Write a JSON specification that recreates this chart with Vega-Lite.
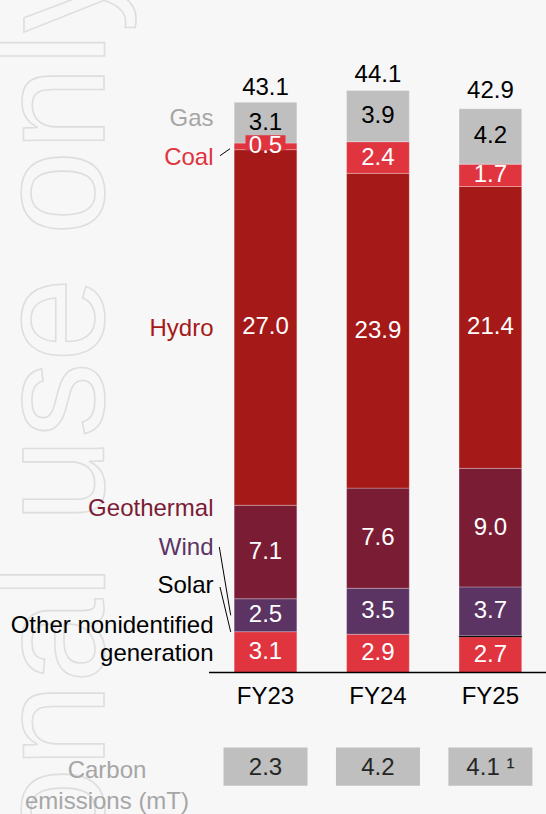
{
  "$schema": "https://vega.github.io/schema/vega-lite/v6.json",
  "width": 546,
  "height": 814,
  "padding": 0,
  "autosize": {"type": "none"},
  "background": "#f7f7f7",
  "config": {"view": {"stroke": null}, "font": "Liberation Sans", "text": {"font": "Liberation Sans", "fontSize": 24}},
  "datasets": {
    "gen": [
      {"year": "FY23", "source": "Other nonidentified generation", "order": 1, "value": 3.1},
      {"year": "FY23", "source": "Wind", "order": 3, "value": 2.5},
      {"year": "FY23", "source": "Geothermal", "order": 4, "value": 7.1},
      {"year": "FY23", "source": "Hydro", "order": 5, "value": 27.0},
      {"year": "FY23", "source": "Coal", "order": 6, "value": 0.5},
      {"year": "FY23", "source": "Gas", "order": 7, "value": 3.1},
      {"year": "FY24", "source": "Other nonidentified generation", "order": 1, "value": 2.9},
      {"year": "FY24", "source": "Wind", "order": 3, "value": 3.5},
      {"year": "FY24", "source": "Geothermal", "order": 4, "value": 7.6},
      {"year": "FY24", "source": "Hydro", "order": 5, "value": 23.9},
      {"year": "FY24", "source": "Coal", "order": 6, "value": 2.4},
      {"year": "FY24", "source": "Gas", "order": 7, "value": 3.9},
      {"year": "FY25", "source": "Other nonidentified generation", "order": 1, "value": 2.7},
      {"year": "FY25", "source": "Solar", "order": 2, "value": 0.1},
      {"year": "FY25", "source": "Wind", "order": 3, "value": 3.7},
      {"year": "FY25", "source": "Geothermal", "order": 4, "value": 9.0},
      {"year": "FY25", "source": "Hydro", "order": 5, "value": 21.4},
      {"year": "FY25", "source": "Coal", "order": 6, "value": 1.7},
      {"year": "FY25", "source": "Gas", "order": 7, "value": 4.2}
    ],
    "years": [
      {"year": "FY23", "total": 43.1, "carbon": "2.3"},
      {"year": "FY24", "total": 44.1, "carbon": "4.2"},
      {"year": "FY25", "total": 42.9, "carbon": "4.1 ¹"}
    ],
    "one": [{"k": 1}]
  },
  "layer": [
    {
      "data": {"name": "one"},
      "mark": {"type": "text", "text": "For personal use only", "angle": 270, "align": "right", "baseline": "alphabetic", "fontSize": 152, "fill": "#f7f7f7", "stroke": "#dedede", "strokeWidth": 1.6, "dy": -162},
      "encoding": {
        "x": {"datum": "FY23", "axis": null},
        "y": {"datum": 54.37, "axis": null}
      }
    },
    {
      "data": {"name": "gen"},
      "mark": {"type": "bar", "width": {"band": 0.6514}, "strokeWidth": 0.8, "strokeOpacity": 0.35},
      "encoding": {
        "x": {"field": "year", "type": "nominal", "axis": null, "scale": {"type": "band", "domain": ["FY23", "FY24", "FY25"], "paddingInner": 0.144, "paddingOuter": 1, "align": 0.9667, "round": false}},
        "y": {"field": "value", "type": "quantitative", "stack": "zero", "axis": null, "scale": {"domain": [-10.744, 51.063], "nice": false, "zero": false}},
        "color": {"field": "source", "type": "nominal", "legend": null, "scale": {"domain": ["Other nonidentified generation", "Solar", "Wind", "Geothermal", "Hydro", "Coal", "Gas"], "range": ["#e0343f", "#000000", "#5b3463", "#7b1c35", "#a51919", "#e0343f", "#bfbfbf"]}},
        "stroke": {"condition": {"test": "datum.source === 'Solar'", "value": "#000000"}, "value": "#ffffff"},
        "order": {"field": "order", "type": "quantitative"}
      }
    },
    {
      "data": {"name": "one"},
      "mark": {"type": "bar", "color": "#e0343f", "width": 40},
      "encoding": {
        "x": {"datum": "FY23", "axis": null},
        "y": {"datum": 40.8, "axis": null},
        "y2": {"datum": 39.65}
      }
    },
    {
      "data": {"name": "gen"},
      "transform": [
        {"stack": "value", "groupby": ["year"], "sort": [{"field": "order", "order": "ascending"}], "as": ["y0", "y1"]},
        {"filter": "datum.source !== 'Solar'"},
        {"fold": ["y0", "y1"], "as": ["edge", "pos"]},
        {"aggregate": [{"op": "mean", "field": "pos", "as": "mid"}, {"op": "max", "field": "value", "as": "value"}], "groupby": ["year", "source"]}
      ],
      "mark": {"type": "text", "baseline": "middle", "align": "center"},
      "encoding": {
        "x": {"field": "year", "type": "nominal", "axis": null},
        "y": {"field": "mid", "type": "quantitative", "axis": null},
        "text": {"field": "value", "type": "quantitative", "format": ".1f"},
        "color": {"condition": {"test": "datum.source === 'Gas'", "value": "#000000"}, "value": "#ffffff"}
      }
    },
    {
      "data": {"name": "years"},
      "mark": {"type": "text", "baseline": "middle", "align": "center", "dy": -17, "color": "#000000"},
      "encoding": {
        "x": {"field": "year", "type": "nominal", "axis": null},
        "y": {"field": "total", "type": "quantitative", "axis": null},
        "text": {"field": "total", "type": "quantitative", "format": ".1f"}
      }
    },
    {
      "data": {"name": "years"},
      "mark": {"type": "text", "baseline": "middle", "align": "center", "color": "#000000"},
      "encoding": {
        "x": {"field": "year", "type": "nominal", "axis": null},
        "y": {"datum": -1.86, "axis": null},
        "text": {"field": "year"}
      }
    },
    {
      "data": {"name": "one"},
      "mark": {"type": "rule", "color": "#000000", "strokeWidth": 1.6, "xOffset": -56.5, "x2Offset": 56},
      "encoding": {
        "x": {"datum": "FY23", "axis": null},
        "x2": {"datum": "FY25"},
        "y": {"datum": 0, "axis": null}
      }
    },
    {
      "data": {"name": "years"},
      "mark": {"type": "bar", "color": "#bfbfbf", "width": 84},
      "encoding": {
        "x": {"field": "year", "type": "nominal", "axis": null},
        "y": {"datum": -5.7, "axis": null},
        "y2": {"datum": -8.6}
      }
    },
    {
      "data": {"name": "years"},
      "mark": {"type": "text", "baseline": "middle", "align": "center", "color": "#262626"},
      "encoding": {
        "x": {"field": "year", "type": "nominal", "axis": null},
        "y": {"datum": -7.27, "axis": null},
        "text": {"field": "carbon"}
      }
    },
    {
      "data": {"name": "one"},
      "mark": {"type": "text", "text": "Carbon", "baseline": "middle", "align": "center", "color": "#a6a6a6", "dx": -158.5},
      "encoding": {"x": {"datum": "FY23", "axis": null}, "y": {"datum": -7.5, "axis": null}}
    },
    {
      "data": {"name": "one"},
      "mark": {"type": "text", "text": "emissions (mT)", "baseline": "middle", "align": "center", "color": "#a6a6a6", "dx": -158.5},
      "encoding": {"x": {"datum": "FY23", "axis": null}, "y": {"datum": -9.8, "axis": null}}
    },
    {
      "data": {"name": "one"},
      "mark": {"type": "text", "text": "Gas", "baseline": "middle", "align": "right", "color": "#a6a6a6", "dx": -52},
      "encoding": {"x": {"datum": "FY23", "axis": null}, "y": {"datum": 42.04, "axis": null}}
    },
    {
      "data": {"name": "one"},
      "mark": {"type": "text", "text": "Coal", "baseline": "middle", "align": "right", "color": "#e0343f", "dx": -52},
      "encoding": {"x": {"datum": "FY23", "axis": null}, "y": {"datum": 39.1, "axis": null}}
    },
    {
      "data": {"name": "one"},
      "mark": {"type": "text", "text": "Hydro", "baseline": "middle", "align": "right", "color": "#a51919", "dx": -52},
      "encoding": {"x": {"datum": "FY23", "axis": null}, "y": {"datum": 26.06, "axis": null}}
    },
    {
      "data": {"name": "one"},
      "mark": {"type": "text", "text": "Geothermal", "baseline": "middle", "align": "right", "color": "#7b1c35", "dx": -52},
      "encoding": {"x": {"datum": "FY23", "axis": null}, "y": {"datum": 12.43, "axis": null}}
    },
    {
      "data": {"name": "one"},
      "mark": {"type": "text", "text": "Wind", "baseline": "middle", "align": "right", "color": "#5b3463", "dx": -52},
      "encoding": {"x": {"datum": "FY23", "axis": null}, "y": {"datum": 9.49, "axis": null}}
    },
    {
      "data": {"name": "one"},
      "mark": {"type": "text", "text": "Solar", "baseline": "middle", "align": "right", "color": "#000000", "dx": -52},
      "encoding": {"x": {"datum": "FY23", "axis": null}, "y": {"datum": 6.56, "axis": null}}
    },
    {
      "data": {"name": "one"},
      "mark": {"type": "text", "text": "Other nonidentified", "baseline": "middle", "align": "right", "color": "#000000", "dx": -52},
      "encoding": {"x": {"datum": "FY23", "axis": null}, "y": {"datum": 3.52, "axis": null}}
    },
    {
      "data": {"name": "one"},
      "mark": {"type": "text", "text": "generation", "baseline": "middle", "align": "right", "color": "#000000", "dx": -52},
      "encoding": {"x": {"datum": "FY23", "axis": null}, "y": {"datum": 1.38, "axis": null}}
    },
    {
      "data": {"name": "one"},
      "mark": {"type": "rule", "color": "#000000", "strokeWidth": 1, "xOffset": -45.5, "x2Offset": -35.5},
      "encoding": {"x": {"datum": "FY23", "axis": null}, "x2": {"datum": "FY23"}, "y": {"datum": 39.24, "axis": null}, "y2": {"datum": 39.77}}
    },
    {
      "data": {"name": "one"},
      "mark": {"type": "rule", "color": "#000000", "strokeWidth": 1, "xOffset": -46.2, "x2Offset": -34.8},
      "encoding": {"x": {"datum": "FY23", "axis": null}, "x2": {"datum": "FY23"}, "y": {"datum": 9.53, "axis": null}, "y2": {"datum": 4.34}}
    },
    {
      "data": {"name": "one"},
      "mark": {"type": "rule", "color": "#000000", "strokeWidth": 1, "xOffset": -45.5, "x2Offset": -34.8},
      "encoding": {"x": {"datum": "FY23", "axis": null}, "x2": {"datum": "FY23"}, "y": {"datum": 6.49, "axis": null}, "y2": {"datum": 3.08}}
    }
  ]
}
